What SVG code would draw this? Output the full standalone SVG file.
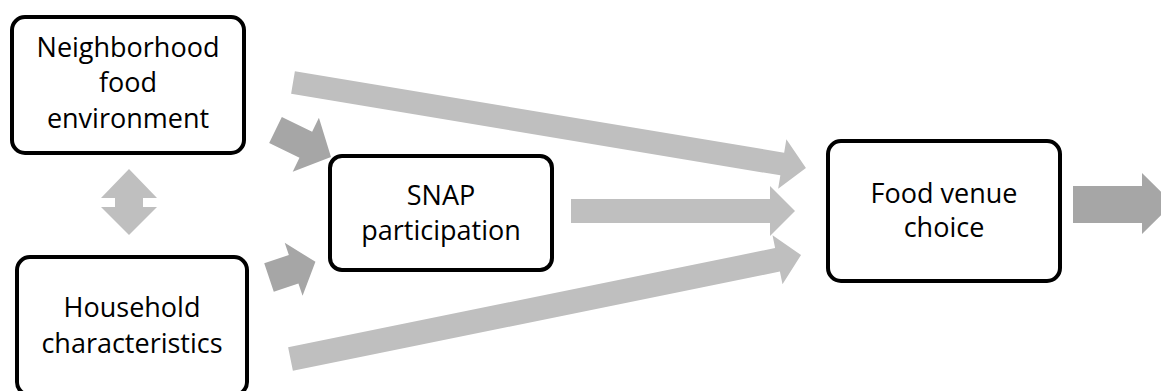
<svg xmlns="http://www.w3.org/2000/svg" width="1161" height="391" viewBox="0 0 1161 391">
<style>
.box{fill:#fff;stroke:#000;stroke-width:4}
.t{font-family:"Open Sans","Liberation Sans",sans-serif;font-size:27px;fill:#000;text-anchor:middle}
.light{fill:#bfbfbf}
.dark{fill:#a6a6a6}
</style>
<rect width="1161" height="391" fill="#fff"/>
<g id="connectors">
<polygon class="light" transform="translate(293,82.5) rotate(9.46)" points="0,-11.5 496,-11.5 496,-25 520,0 496,25 496,11.5 0,11.5"/>
<polygon class="light" transform="translate(571,211)" points="0,-12 199,-12 199,-25 224,0 199,25 199,12 0,12"/>
<polygon class="light" transform="translate(290.5,359) rotate(-11.51)" points="0,-12 497,-12 497,-25 521,0 497,25 497,12 0,12"/>
<polygon class="dark" transform="translate(275.5,130) rotate(25.9)" points="0,-14.5 33.7,-14.5 33.7,-30 61.7,0 33.7,30 33.7,14.5 0,14.5"/>
<polygon class="dark" transform="translate(269,277.5) rotate(-18.6)" points="0,-15 26,-15 26,-28 49,0 26,28 26,15 0,15"/>
<polygon class="light" points="129,169 157,198 143,198 143,207 157,207 129,235 101,207 115,207 115,198 101,198"/>
<polygon class="dark" points="1073,186 1142,186 1142,173 1173,203.5 1142,234 1142,223 1073,223"/>
</g>
<g id="node-neighborhood">
<rect class="box" x="12" y="17" width="232" height="136" rx="13"/>
<text class="t" x="128" y="57">Neighborhood</text>
<text class="t" x="128" y="92">food</text>
<text class="t" x="128" y="128">environment</text>
</g>
<g id="node-household">
<rect class="box" x="17" y="257" width="230" height="138" rx="13"/>
<text class="t" x="132" y="317">Household</text>
<text class="t" x="132" y="353">characteristics</text>
</g>
<g id="node-snap">
<rect class="box" x="330" y="156" width="222" height="114" rx="12"/>
<text class="t" x="441" y="205">SNAP</text>
<text class="t" x="441" y="240">participation</text>
</g>
<g id="node-food-venue">
<rect class="box" x="828" y="141" width="232" height="140" rx="13"/>
<text class="t" x="944" y="203">Food venue</text>
<text class="t" x="944" y="237">choice</text>
</g>
</svg>
